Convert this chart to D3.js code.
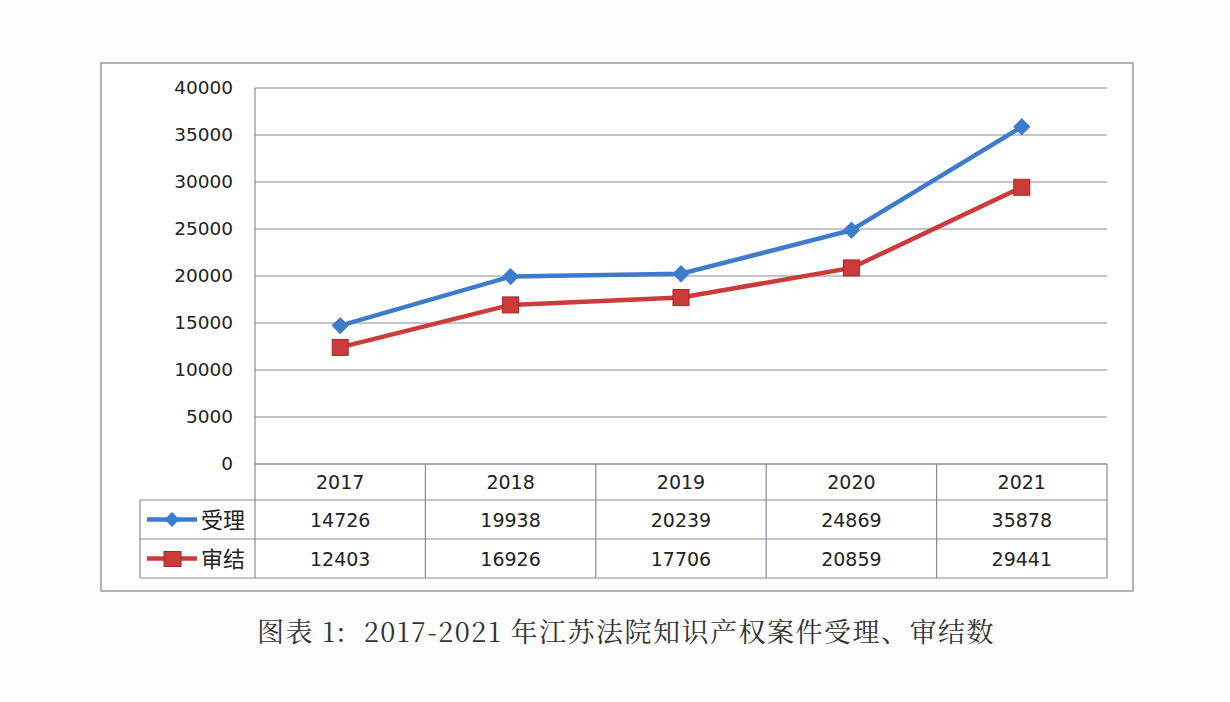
<!DOCTYPE html>
<html><head><meta charset="utf-8">
<script src="https://cdn.jsdelivr.net/npm/d3@7"></script>
<style>body{margin:0;background:#fff;}svg{display:block;}</style>
</head><body>
<svg id="c" width="1230" height="702"></svg>
<script>
const years = ["2017","2018","2019","2020","2021"];
const accepted = [14726, 19938, 20239, 24869, 35878];
const concluded = [12403, 16926, 17706, 20859, 29441];
const yTicks = [0,5000,10000,15000,20000,25000,30000,35000,40000];
const seriesNames = ["受理","审结"];
const title = "图表 1:  2017-2021 年江苏法院知识产权案件受理、审结数";

const svg = d3.select("#c");
const L = 255, R = 1107, T = 88, B = 464;
const blue = "#3d7bcc", red = "#cc3a3a", grid = "#8c8a96";
const font = "'DejaVu Sans', Verdana, sans-serif";

svg.append("rect").attr("width",1230).attr("height",702).attr("fill","#fdfdfd");
svg.append("rect").attr("x",101).attr("y",63).attr("width",1032).attr("height",528)
  .attr("fill","#fff").attr("stroke","#9a98a4").attr("stroke-width",1.5);

const x = d3.scaleBand().domain(years).range([L,R]);
const y = d3.scaleLinear().domain([0,40000]).range([B,T]);

// gridlines
svg.append("g").selectAll("line").data(yTicks).join("line")
  .attr("x1",L).attr("x2",R).attr("y1",d=>y(d)).attr("y2",d=>y(d))
  .attr("stroke",grid).attr("stroke-width",1.2);

// y axis labels
const yAxis = d3.axisLeft(y).tickValues(yTicks).tickSize(0).tickPadding(22).tickFormat(d3.format("d"));
const ga = svg.append("g").attr("transform",`translate(${L},0)`).call(yAxis);
ga.select(".domain").remove();
ga.selectAll("text").attr("font-family",font).attr("font-size",18.5).attr("fill","#222");

// table
const rowH = [464,500,539,578];
const tg = svg.append("g").attr("stroke",grid).attr("stroke-width",1.2).attr("fill","none");
tg.append("line").attr("x1",L).attr("x2",R).attr("y1",rowH[0]).attr("y2",rowH[0]);
tg.append("line").attr("x1",140).attr("x2",R).attr("y1",rowH[1]).attr("y2",rowH[1]);
tg.append("line").attr("x1",140).attr("x2",R).attr("y1",rowH[2]).attr("y2",rowH[2]);
tg.append("line").attr("x1",140).attr("x2",R).attr("y1",rowH[3]).attr("y2",rowH[3]);
tg.append("line").attr("x1",L).attr("x2",L).attr("y1",T).attr("y2",rowH[3]);
tg.append("line").attr("x1",140).attr("x2",140).attr("y1",rowH[1]).attr("y2",rowH[3]);
tg.selectAll(".v").data(years).join("line").attr("class","v")
  .attr("x1",d=>x(d)+x.bandwidth()).attr("x2",d=>x(d)+x.bandwidth())
  .attr("y1",rowH[0]).attr("y2",rowH[3]);

const txt = svg.append("g").attr("font-family",font).attr("font-size",19).attr("fill","#222").attr("text-anchor","middle");
txt.selectAll(".yr").data(years).join("text").attr("class","yr")
  .attr("x",d=>x(d)+x.bandwidth()/2).attr("y",(rowH[0]+rowH[1])/2+7).text(d=>d);
[accepted, concluded].forEach((arr,i)=>{
  txt.selectAll(".r"+i).data(arr).join("text").attr("class","r"+i)
    .attr("x",(d,j)=>x(years[j])+x.bandwidth()/2).attr("y",(rowH[i+1]+rowH[i+2])/2+7).text(d=>d);
});

// legend cells
const colors = [blue, red];
seriesNames.forEach((n,i)=>{
  const cy = (rowH[i+1]+rowH[i+2])/2;
  svg.append("line").attr("x1",147).attr("x2",197).attr("y1",cy).attr("y2",cy)
    .attr("stroke",colors[i]).attr("stroke-width",4.5);
  if(i===0){
    svg.append("path").attr("d",d3.symbol(d3.symbolDiamond2,140)())
      .attr("transform",`translate(172,${cy})`).attr("fill",blue);
  } else {
    svg.append("rect").attr("x",164).attr("y",cy-7).attr("width",17).attr("height",15).attr("fill",red).attr("stroke","#a02828");
  }
  svg.append("text").attr("x",201).attr("y",cy+8).attr("font-family","'Noto Sans CJK SC', sans-serif")
    .attr("font-size",22).attr("fill","#222").text(n);
});

// lines
const line = d3.line().x((d,i)=>x(years[i])+x.bandwidth()/2).y(d=>y(d));
svg.append("path").datum(accepted).attr("d",line).attr("fill","none").attr("stroke",blue).attr("stroke-width",4.5);
svg.append("path").datum(concluded).attr("d",line).attr("fill","none").attr("stroke",red).attr("stroke-width",4.5);

svg.append("g").selectAll("path").data(accepted).join("path")
  .attr("d",d3.symbol(d3.symbolDiamond2,190)())
  .attr("transform",(d,i)=>`translate(${x(years[i])+x.bandwidth()/2},${y(d)})`)
  .attr("fill",blue);
svg.append("g").selectAll("rect").data(concluded).join("rect")
  .attr("x",(d,i)=>x(years[i])+x.bandwidth()/2-8).attr("y",d=>y(d)-8)
  .attr("width",16).attr("height",16).attr("fill",red).attr("stroke","#a02828");

// title
svg.append("text").attr("x",626).attr("y",642).attr("text-anchor","middle")
  .attr("font-family","'Noto Serif CJK SC','Noto Sans CJK SC', serif").attr("font-size",27)
  .attr("letter-spacing",1.5).attr("fill","#333")
  .attr("xml:space","preserve").text(title);
</script>
</body></html>
